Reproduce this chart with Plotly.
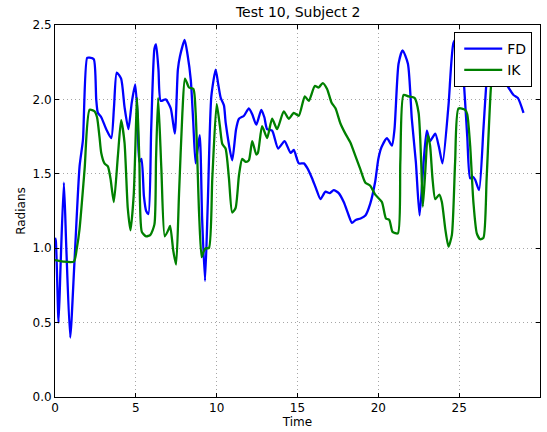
import plotly.graph_objects as go

# FD (blue) series
fd_t = [0.0, 0.05, 0.22, 0.35, 0.55, 0.7, 0.94, 1.2, 1.52, 1.73, 1.99, 2.15, 2.4, 2.55, 2.65, 2.86,
        3.17, 3.48, 3.65, 3.82, 4.09, 4.3, 4.54, 4.75, 4.96, 5.1, 5.22, 5.35, 5.5, 5.64, 5.78, 5.95,
        6.15, 6.25, 6.4, 6.54, 6.85, 7.16, 7.41, 7.6, 7.73, 8.02, 8.2, 8.4, 8.55, 8.7, 8.95, 9.1,
        9.28, 9.45, 9.67, 9.94, 10.1, 10.25, 10.45, 10.56, 10.96, 11.2, 11.38, 11.69, 11.99, 12.2,
        12.45, 12.76, 12.95, 13.12, 13.43, 13.8, 14.2, 14.57, 14.77, 15.08, 15.39, 15.6, 15.9, 16.15,
        16.42, 16.73, 17.0, 17.24, 17.55, 17.86, 18.17, 18.37, 18.6, 18.9, 19.2, 19.5, 19.81, 20.0,
        20.2, 20.53, 20.84, 21.0, 21.25, 21.5, 21.83, 22.07, 22.32, 22.55, 22.8, 23.0, 23.2, 23.52,
        23.75, 23.97, 24.34, 24.65, 24.9, 25.05, 25.26, 25.5, 25.68, 25.85, 25.99, 26.23, 26.5, 26.7,
        26.9, 27.2, 27.5, 27.74, 28.05, 28.36, 28.63, 28.98]
fd_v = [1.07, 1.05, 0.50, 0.90, 1.44, 1.00, 0.40, 0.90, 1.55, 1.73, 2.28, 2.28, 2.27, 2.00, 1.91, 1.88,
        1.80, 1.74, 1.95, 2.18, 2.14, 1.95, 1.80, 1.98, 2.10, 1.90, 1.58, 1.60, 1.35, 1.25, 1.23, 1.80,
        2.34, 2.37, 2.20, 1.99, 2.00, 1.94, 1.77, 2.20, 2.29, 2.40, 2.30, 2.13, 1.85, 1.57, 1.76, 1.20,
        0.78, 1.30, 2.02, 2.20, 2.10, 2.01, 1.96, 1.84, 1.59, 1.80, 1.87, 1.89, 1.94, 1.90,
        1.83, 1.93, 1.88, 1.80, 1.79, 1.67, 1.72, 1.64, 1.66, 1.57, 1.57, 1.54, 1.47, 1.40,
        1.33, 1.38, 1.37, 1.39, 1.37, 1.31, 1.22, 1.17, 1.19, 1.20, 1.22, 1.30, 1.45, 1.60,
        1.68, 1.74, 1.69, 1.80, 2.24, 2.33, 2.24, 1.87, 1.58, 1.22, 1.58, 1.79, 1.72, 1.77,
        1.68, 1.57, 1.96, 2.38, 2.42, 2.38, 2.16, 1.75, 1.47, 1.48, 1.46, 1.39, 1.80, 2.13,
        2.30, 2.35, 2.20, 2.13, 2.08, 2.03, 2.01, 1.91]

# IK (green) series
ik_t = [0.0, 0.5, 1.17, 1.35, 1.52, 1.83, 2.14, 2.45, 2.6, 2.75, 2.86, 3.06, 3.27, 3.43, 3.64, 3.89,
        4.09, 4.3, 4.5, 4.67, 4.87, 5.08, 5.22, 5.37, 5.64, 5.9, 6.15, 6.25, 6.38, 6.58, 6.79, 7.0,
        7.12, 7.32, 7.49, 7.67, 7.88, 8.04, 8.29, 8.56, 8.7, 8.91, 9.07, 9.2, 9.32, 9.52, 9.73, 10.0,
        10.2, 10.35, 10.55, 10.76, 10.96, 11.17, 11.38, 11.58, 11.79, 11.99, 12.2, 12.45, 12.55, 12.81,
        13.12, 13.43, 13.74, 14.15, 14.46, 14.77, 15.08, 15.45, 15.7, 16.07, 16.31, 16.56, 16.83, 17.1,
        17.35, 17.65, 17.96, 18.27, 18.58, 18.89, 19.2, 19.5, 19.81, 20.22, 20.47, 20.68, 20.88, 21.21,
        21.36, 21.56, 21.87, 22.24, 22.49, 22.65, 22.75, 22.9, 23.06, 23.2, 23.35, 23.52, 23.77, 23.93,
        24.14, 24.34, 24.55, 24.75, 24.96, 25.37, 25.5, 25.68, 25.88, 26.09, 26.3, 26.5, 26.7, 26.97,
        27.2, 27.6, 28.0, 28.5, 28.86, 28.97]
ik_v = [0.92, 0.91, 0.91, 1.00, 1.13, 1.53, 1.93, 1.92, 1.88, 1.75, 1.64, 1.57, 1.55, 1.47, 1.31, 1.62,
        1.86, 1.71, 1.27, 1.12, 1.36, 2.01, 1.58, 1.11, 1.08, 1.09, 1.16, 1.60, 2.01, 1.53, 1.08, 1.12,
        1.15, 0.98, 0.89, 1.36, 1.91, 2.14, 2.08, 2.07, 1.91, 1.24, 0.94, 0.98, 1.00, 1.00, 1.47, 1.97,
        1.82, 1.70, 1.67, 1.47, 1.24, 1.27, 1.49, 1.60, 1.58, 1.59, 1.72, 1.63, 1.64, 1.82,
        1.74, 1.87, 1.80, 1.92, 1.87, 1.91, 1.89, 2.02, 1.99, 2.09, 2.08, 2.11, 2.07, 1.98,
        1.94, 1.84, 1.77, 1.71, 1.62, 1.53, 1.44, 1.42, 1.36, 1.31, 1.20, 1.19, 1.11, 1.10,
        1.58, 2.03, 2.02, 2.01, 1.91, 1.58, 1.28, 1.51, 1.76, 1.69, 1.47, 1.33, 1.36, 1.31,
        1.13, 1.01, 1.09, 1.58, 1.94, 1.93, 1.90, 1.69, 1.31, 1.10, 1.06, 1.07, 1.47, 2.09,
        2.30, 2.35, 2.32, 2.25, 2.16, 2.10]

FONT = "DejaVu Sans"

fig = go.Figure()
fig.add_trace(go.Scatter(x=fd_t, y=fd_v, mode="lines", name="FD",
                         line=dict(color="#0000ff", width=2.3, shape="spline", smoothing=0.6)))
fig.add_trace(go.Scatter(x=ik_t, y=ik_v, mode="lines", name="IK",
                         line=dict(color="#008000", width=2.3, shape="spline", smoothing=0.6)))

axis_common = dict(showline=True, linecolor="black", linewidth=1, mirror="allticks",
                   ticks="inside", ticklen=4, tickcolor="black",
                   showgrid=True, gridcolor="#a6a6a6", griddash="1px,3px", gridwidth=1,
                   zeroline=False, tickfont=dict(family=FONT, size=12, color="black"))

fig.update_layout(
    width=547, height=432,
    margin=dict(l=55, r=6, t=25, b=32),
    paper_bgcolor="white", plot_bgcolor="white",
    title=dict(text="Test 10, Subject 2", x=0.545, xref="container", xanchor="center",
               y=1 - 12 / 432, yref="container", yanchor="middle",
               font=dict(family=FONT, size=14, color="black")),
    xaxis=dict(range=[0, 30], tickvals=[0, 5, 10, 15, 20, 25, 30],
               title=dict(text="Time", font=dict(family=FONT, size=12, color="black"), standoff=2),
               **axis_common),
    yaxis=dict(range=[0, 2.5], tickvals=[0, 0.5, 1.0, 1.5, 2.0, 2.5], tickformat=".1f",
               title=dict(text="Radians", font=dict(family=FONT, size=12, color="black"), standoff=4),
               **axis_common),
    legend=dict(x=0.984, y=0.981, xanchor="right", yanchor="top",
                bgcolor="white", bordercolor="black", borderwidth=1,
                font=dict(family=FONT, size=14, color="black"),
                itemwidth=38, tracegroupgap=0, indentation=4),
    showlegend=True,
)

fig.write_html("out.html")
